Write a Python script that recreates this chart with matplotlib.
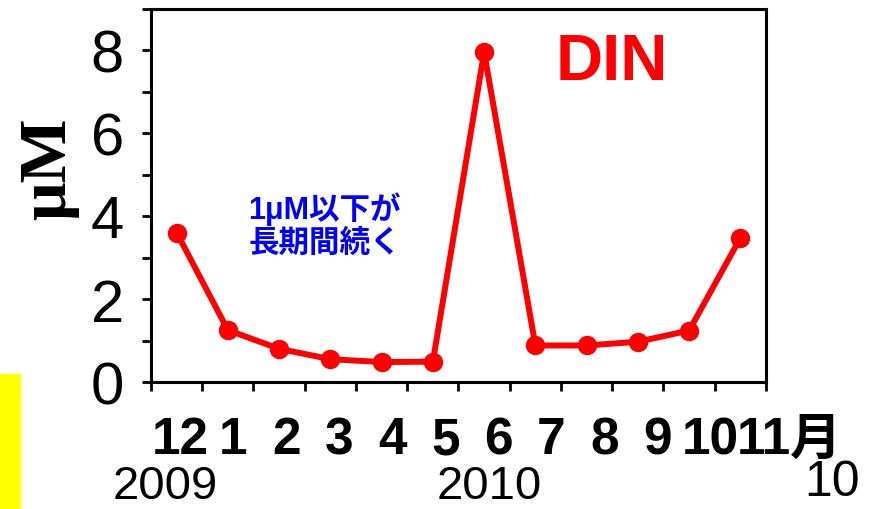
# -*- coding: utf-8 -*-
# DIN seasonal plot (Dec 2009 - Nov 2010)

import numpy as np
import matplotlib.pyplot as plt

plt.rcParams['font.family'] = ['Liberation Sans', 'Noto Sans CJK JP', 'DejaVu Sans']

#%% Data

months = ['12', '1', '2', '3', '4', '5', '6', '7', '8', '9', '10', '11']
din_um = [3.6, 1.25, 0.8, 0.55, 0.48, 0.49, 7.95, 0.88, 0.88, 0.97, 1.24, 3.47]
years = ['2009', '2010']
note = '1μM以下が\n長期間続く'
page_no = '10'

#%% Plot

fig = plt.figure(figsize=(8.81, 5.10), dpi=100)
ax = fig.add_axes([151 / 881, 1 - 383 / 510, 615 / 881, 373.5 / 510])

x = np.arange(len(din_um)) + 0.5
ax.plot(x, din_um, color='#ff0000', linewidth=4.3, marker='o', markersize=14,
        markeredgewidth=0, solid_joinstyle='round')

ax.set_xlim(0, len(months))
ax.set_ylim(0, 9)

# Axis styling
for sp in ax.spines.values():
    sp.set_linewidth(2.2)
ax.set_yticks([0, 2, 4, 6, 8])
ax.set_yticks([1, 3, 5, 7, 9], minor=True)
ax.tick_params(axis='y', which='both', direction='out', length=6.5, width=2,
               labelsize=43, pad=13)
ax.set_xticks(np.arange(0, len(months) + 1))
ax.tick_params(axis='x', which='major', direction='out', length=6.5, width=2,
               labelbottom=False)

# Month labels (slightly drifting right as in the original slide)
label_pos = 0.57 + 1.035 * np.arange(len(months))
ax.set_xticks(label_pos, months, minor=True)
ax.tick_params(axis='x', which='minor', length=0, labelsize=37, pad=24)
for t in ax.get_xticklabels(minor=True):
    t.set_fontweight('bold')
ax.text(12.96, -34 / 373.5, '月', transform=ax.get_xaxis_transform(),
        ha='center', va='top', fontsize=37, fontweight='bold', clip_on=False)

# Year labels
ax.text(0.27, -82 / 373.5, years[0], transform=ax.get_xaxis_transform(),
        ha='center', va='top', fontsize=34, clip_on=False)
ax.text(6.6, -82 / 373.5, years[1], transform=ax.get_xaxis_transform(),
        ha='center', va='top', fontsize=34, clip_on=False)

ax.set_ylabel('μM', fontsize=49, fontweight='bold', family='Liberation Serif',
              va='center')
ax.yaxis.set_label_coords(-0.167, 0.573)

ax.text(9.0, 7.7, 'DIN', color='#ff0000', fontsize=47, fontweight='bold',
        ha='center', va='center')
ax.text(1.9, 3.78, note, color='#0000ff', fontsize=22, fontweight='bold',
        ha='left', va='center', linespacing=1.2,
        family=['Liberation Sans', 'Noto Sans CJK JP'])

# Slide decorations
fig.patches.append(plt.Rectangle((0, 0), 20 / 881, 135 / 510, color='#ffff00',
                                 transform=fig.transFigure, figure=fig))
fig.text(832 / 881, 1 - 460 / 510, page_no, fontsize=36, ha='center', va='top')

plt.savefig('out.png', dpi=100)
